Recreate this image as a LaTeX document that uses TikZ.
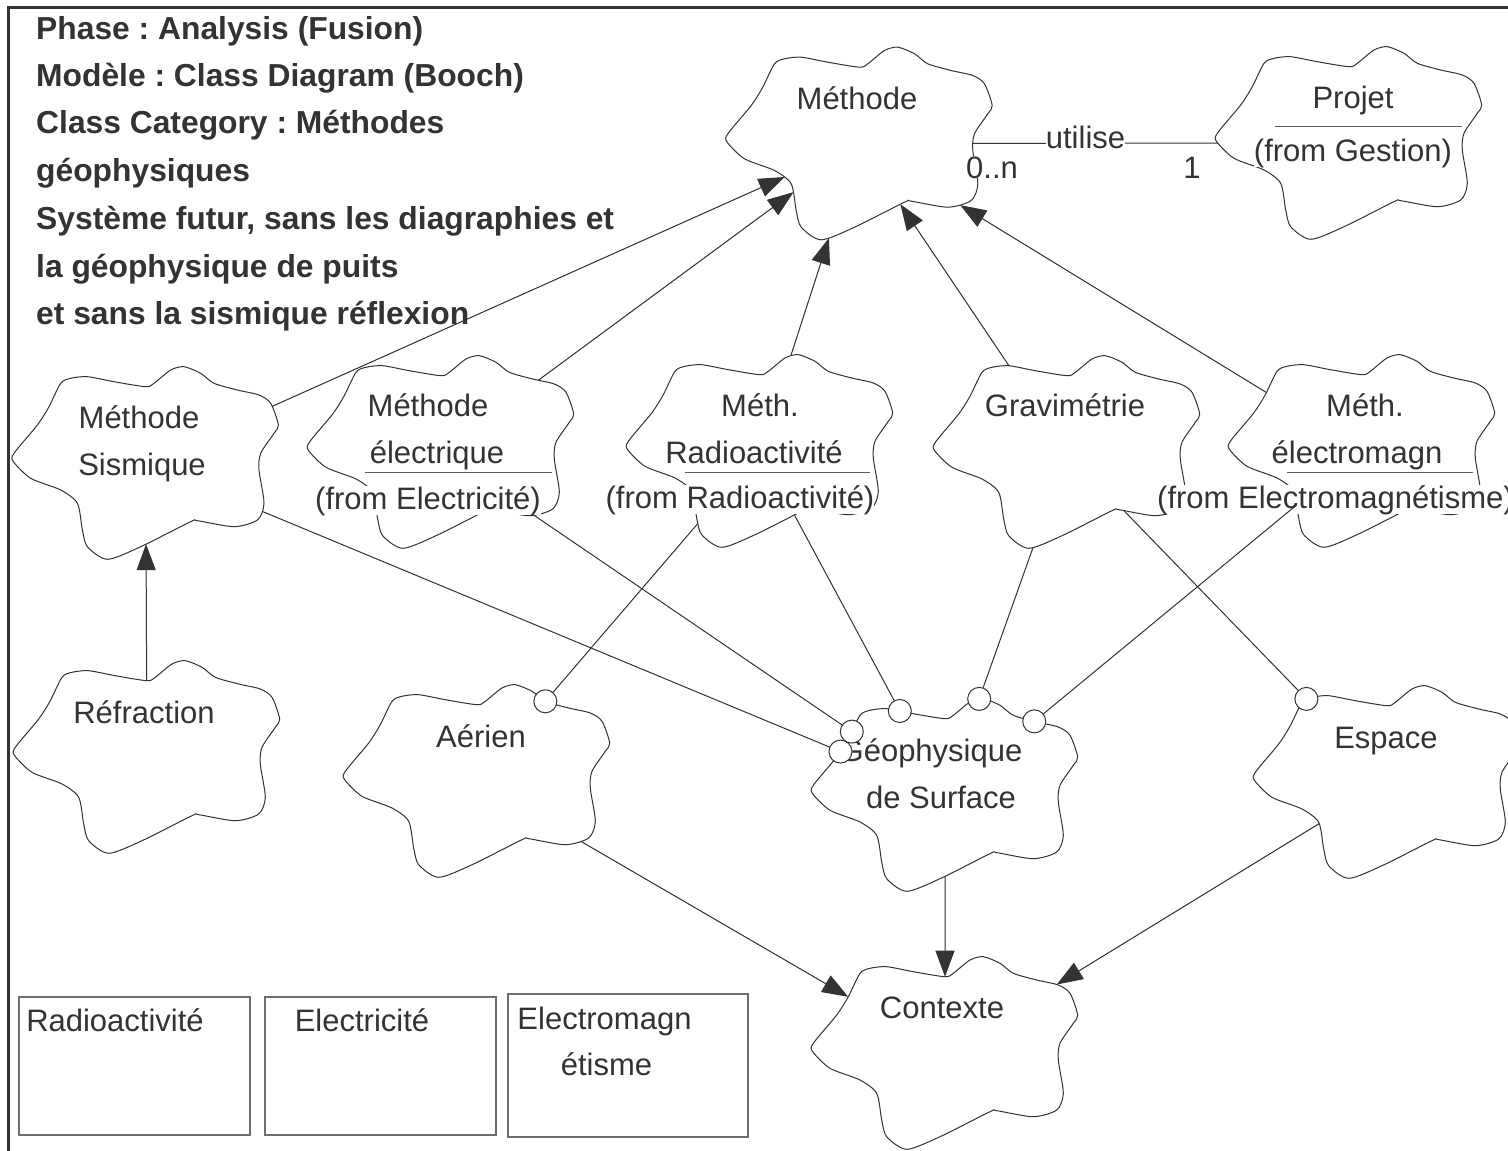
\documentclass[tikz,border=0pt]{standalone}
\usepackage{fontspec}
\setmainfont{Liberation Sans}
\usetikzlibrary{arrows.meta,intersections}
\definecolor{ink}{HTML}{333333}
\definecolor{boxgray}{HTML}{6E6E6E}
\newcommand\cfont{\fontsize{31}{37}\selectfont}
\newcommand\hfont{\fontsize{31.8}{38}\selectfont\bfseries}
\frenchspacing
\tikzset{
  cloudline/.style={draw=ink, line width=1pt},
  conn/.style={draw=ink, line width=1pt},
  inh/.style={conn, -{Triangle[length=26pt,width=19pt]}, fill=ink},
  hascirc/.style={circle, draw=ink, fill=white, line width=1pt, minimum size=23pt, inner sep=0pt},
  lbl/.style={font=\cfont, text=ink, inner sep=0pt, anchor=base},
  fromlbl/.style={lbl, fill=white},
  hdr/.style={font=\hfont, text=ink, inner sep=0pt, anchor=base west},
  uline/.style={draw=ink!80, line width=1pt},
  pkg/.style={draw=boxgray, line width=1.2pt, inner sep=0pt},
  frameline/.style={draw=ink, line width=2.8pt},
}
% cloud: name, centre
\newcommand\cloud[2]{%
  \coordinate (#1) at #2;
  \draw[cloudline, name path=C-#1, shift={(#1)}] plot[smooth cycle, tension=0.45] coordinates {(-96.7,-56.3) (-85,-79.7) (-75,-84.7) (-58.3,-86.3) (-31.7,-81.3) (0,-76.3) (8.3,-79.7) (25,-93) (38.3,-96.3) (55,-89.7) (68.3,-79.7) (91.7,-73) (113.3,-68) (125,-59.7) (132.7,-38) (128.3,-29.7) (115,-9.7) (113.3,7) (118.3,40.3) (111.7,57) (88.3,63.7) (51.7,57.7) (45,58.7) (-5,83.7) (-38.3,96.3) (-58.3,83.7) (-63.3,67) (-68.3,40.3) (-85,27) (-115,15.3) (-132.3,-1.3) (-131.7,-9.7) (-108.3,-38)};
}
% link: from, to, style  (centre to centre, cut at both cloud outlines)
\newcommand\link[3]{%
  \path[name path=L-#1-#2] (#1) -- (#2);
  \path[name intersections={of=C-#1 and L-#1-#2, by={#1-#2-s}}];
  \path[name intersections={of=C-#2 and L-#1-#2, by={#1-#2-e}}];
  \draw[#3] (#1-#2-s) -- (#1-#2-e);
}
\newcommand\haslink[2]{%
  \link{#1}{#2}{conn}
  \node[hascirc] (h-#1-#2) at (#1-#2-e) {};
}
\begin{document}
\begin{tikzpicture}[x=1pt, y=-1pt]
\useasboundingbox (0,0) rectangle (1508,1151);
\fill[white] (0,0) rectangle (1508,1151);
\draw[frameline] (8.3,1170) -- (8.3,7.3) -- (1530,7.3);

% header
\node[hdr] (h1) at (36,39) {Phase : Analysis (Fusion)};
\node[hdr] (h2) at (36,86) {Modèle : Class Diagram (Booch)};
\node[hdr] (h3) at (36,133) {Class Category : Méthodes};
\node[hdr] (h4) at (36,181) {géophysiques};
\node[hdr] (h5) at (36,229) {Système futur, sans les diagraphies et};
\node[hdr] (h6) at (36,277) {la géophysique de puits};
\node[hdr] (h7) at (36,324) {et sans la sismique réflexion};

% clouds
\cloud{meth}{(859.5,143.5)}
\cloud{proj}{(1349,143)}
\cloud{sism}{(145.7,463)}
\cloud{refr}{(147,757)}
\cloud{elec}{(441,452)}
\cloud{radio}{(760,451)}
\cloud{grav}{(1067,452)}
\cloud{emag}{(1362,451)}
\cloud{aer}{(477,781)}
\cloud{geo}{(945,795)}
\cloud{esp}{(1387,782)}
\cloud{ctx}{(945,1053)}

% inheritance
\link{sism}{meth}{inh}
\link{elec}{meth}{inh}
\link{radio}{meth}{inh}
\link{grav}{meth}{inh}
\link{emag}{meth}{inh}
\link{refr}{sism}{inh}
\link{aer}{ctx}{inh}
\link{geo}{ctx}{inh}
\link{esp}{ctx}{inh}

% association
\link{meth}{proj}{conn}

% labels
\node[lbl] (t-meth) at (857,109) {Méthode};
\node[lbl] (t-proj1) at (1353,108) {Projet};
\node[fromlbl] (t-proj2) at (1353,161) {(from Gestion)};
\node[lbl] (t-sism1) at (139,428) {Méthode};
\node[lbl] (t-sism2) at (142,475) {Sismique};
\node[lbl] (t-elec1) at (428,416) {Méthode};
\node[lbl] (t-elec2) at (437,463) {électrique};
\node[fromlbl] (t-elec3) at (428,509) {(from Electricité)};
\node[lbl] (t-radio1) at (760,416) {Méth.};
\node[lbl] (t-radio2) at (754,463) {Radioactivité};
\node[fromlbl] (t-radio3) at (740,508) {(from Radioactivité)};
\node[lbl] (t-grav) at (1065,416) {Gravimétrie};
\node[lbl] (t-emag1) at (1365,416) {Méth.};
\node[lbl] (t-emag2) at (1357,463) {électromagn};
\node[fromlbl, anchor=base west] (t-emag3) at (1157,508) {(from Electromagnétisme)};
\node[lbl] (t-refr) at (144,723) {Réfraction};
\node[lbl] (t-aer) at (481,747) {Aérien};
\node[lbl] (t-geo1) at (931,761) {Géophysique};
\node[lbl] (t-geo2) at (941,808) {de Surface};
\node[lbl] (t-esp) at (1386,748) {Espace};
\node[lbl] (t-ctx) at (942,1018) {Contexte};

% class underlines
\draw[uline] (1275,126) -- (1462,126);
\draw[uline] (365,472) -- (552,472);
\draw[uline] (685,472.7) -- (870,472.7);
\draw[uline] (1287,472.7) -- (1473,472.7);

% has relations (circle at the owner end)
\haslink{sism}{geo}
\haslink{elec}{geo}
\haslink{radio}{geo}
\haslink{grav}{geo}
\haslink{emag}{geo}
\haslink{radio}{aer}
\haslink{grav}{esp}

% association labels
\node[lbl, fill=white] (a-lbl) at (1085.5,148) {utilise};
\node[lbl, fill=white] (a-m1) at (992,178) {0..n};
\node[lbl] (a-m2) at (1192,178) {1};

% category boxes
\node[pkg, minimum width=231pt, minimum height=138pt] (pk-rad) at (134.5,1066) {};
\node[pkg, minimum width=231pt, minimum height=138pt] (pk-ele) at (380.5,1066) {};
\node[pkg, minimum width=240pt, minimum height=143pt] (pk-emg) at (628,1065.5) {};
\node[lbl] (pt-rad) at (115,1031) {Radioactivité};
\node[lbl] (pt-ele) at (362,1031) {Electricité};
\node[lbl] (pt-emg1) at (604.5,1029) {Electromagn};
\node[lbl] (pt-emg2) at (606.5,1075) {étisme};
\end{tikzpicture}
\end{document}
